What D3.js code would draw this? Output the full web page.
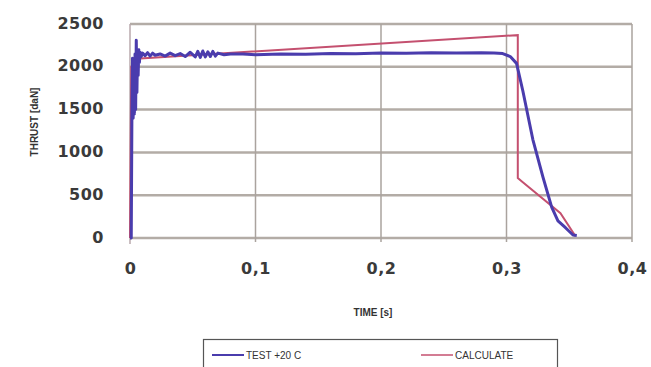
<!DOCTYPE html>
<html>
<head>
<meta charset="utf-8">
<script src="https://cdn.jsdelivr.net/npm/d3@7"></script>
<style>
  body { margin: 0; background: #fff; }
  svg { display: block; font-family: "DejaVu Sans", Verdana, sans-serif; }
</style>
</head>
<body>
<div id="chart"></div>
<script>
// tick values
const xTicks = [0, 0.1, 0.2, 0.3, 0.4];
const yTicks = [0, 500, 1000, 1500, 2000, 2500];

// measured test curve (time s, thrust)
const testTime = [
  0, 0.001, 0.0015, 0.002, 0.0025, 0.003, 0.0035, 0.004, 0.0045, 0.005,
  0.0055, 0.006, 0.0065, 0.007, 0.0075, 0.008, 0.009, 0.010, 0.012, 0.014,
  0.016, 0.018, 0.020, 0.024, 0.028, 0.032, 0.036, 0.040, 0.044, 0.048,
  0.052, 0.054, 0.056, 0.058, 0.060, 0.062, 0.064, 0.066, 0.068, 0.070,
  0.075, 0.080, 0.090, 0.100, 0.120, 0.140, 0.160, 0.180, 0.200, 0.220,
  0.240, 0.260, 0.280, 0.290, 0.297, 0.303, 0.308, 0.313, 0.321, 0.329,
  0.336, 0.341, 0.347, 0.353, 0.356
];
const testThrust = [
  0, 0, 1400, 2100, 1400, 2050, 1450, 2150, 1500, 2310,
  1700, 2160, 1900, 2200, 2050, 2170, 2120, 2160, 2130, 2165,
  2125, 2160, 2135, 2150, 2125, 2160, 2130, 2155, 2120, 2170,
  2115, 2180, 2110, 2185, 2115, 2175, 2120, 2180, 2125, 2160,
  2140, 2150, 2150, 2140, 2150, 2148, 2155, 2152, 2160, 2158,
  2165, 2162, 2165, 2160, 2155, 2120, 2040, 1720, 1150, 715,
  360, 200, 120, 35, 30
];

// calculated curve
const calcTime = [0, 0.001, 0.005, 0.309, 0.309, 0.313, 0.343, 0.355];
const calcThrust = [0, 2000, 2095, 2370, 700, 650, 290, 20];

const W = 651, H = 367;
const svg = d3.select('#chart').append('svg')
  .attr('width', W).attr('height', H);

const x = d3.scaleLinear().domain([0, 0.4]).range([130, 632]);
const y = d3.scaleLinear().domain([0, 2500]).range([238, 24]);

// horizontal grid
svg.append('g')
  .selectAll('line')
  .data(yTicks)
  .enter().append('line')
  .attr('x1', x(0)).attr('x2', x(0.4))
  .attr('y1', d => y(d)).attr('y2', d => y(d))
  .attr('stroke', '#b3aca6').attr('stroke-width', 2.5);

// vertical grid
svg.append('g')
  .selectAll('line')
  .data(xTicks.slice(1))
  .enter().append('line')
  .attr('x1', d => x(d)).attr('x2', d => x(d))
  .attr('y1', y(2500)).attr('y2', y(0) + 4)
  .attr('stroke', '#aaa39e').attr('stroke-width', 1.5);

// left axis line
svg.append('line')
  .attr('x1', x(0)).attr('x2', x(0))
  .attr('y1', y(2500)).attr('y2', y(0) + 6)
  .attr('stroke', '#b8a8ac').attr('stroke-width', 1.5);

const tickFont = '"DejaVu Sans", Verdana, sans-serif';

// y axis
const yAxis = svg.append('g')
  .attr('transform', 'translate(104,0)')
  .call(d3.axisLeft(y).tickValues(yTicks).tickSize(0).tickPadding(0).tickFormat(d3.format('d')));
yAxis.select('.domain').remove();
yAxis.selectAll('text')
  .attr('font-size', 16).attr('fill', '#3a3a3a').attr('font-weight', 'bold')
  .attr('letter-spacing', 0.5)
  .attr('dy', '0.25em')
  .style('font-family', tickFont);

// x axis
const xAxis = svg.append('g')
  .attr('transform', `translate(0,${y(0) + 25})`)
  .call(d3.axisBottom(x).tickValues(xTicks).tickSize(0).tickPadding(0)
    .tickFormat(d => d === 0 ? '0' : d3.format('.1f')(d).replace('.', ',')));
xAxis.select('.domain').remove();
xAxis.selectAll('text')
  .attr('font-size', 16).attr('fill', '#3a3a3a').attr('font-weight', 'bold')
  .attr('letter-spacing', 0.5)
  .style('font-family', tickFont);

// axis titles
svg.append('text')
  .attr('x', 373).attr('y', 316)
  .attr('text-anchor', 'middle')
  .attr('font-size', 10).attr('font-weight', 'bold').attr('fill', '#333')
  .style('font-family', '"Liberation Sans", Arial, sans-serif')
  .text('TIME [s]');

svg.append('text')
  .attr('transform', 'translate(38,122) rotate(-90)')
  .attr('text-anchor', 'middle')
  .attr('font-size', 10).attr('font-weight', 'bold').attr('fill', '#333')
  .style('font-family', '"Liberation Sans", Arial, sans-serif')
  .text('THRUST [daN]');

// lines
const testData = testTime.map((t, i) => ({t, v: testThrust[i]}));
const calcData = calcTime.map((t, i) => ({t, v: calcThrust[i]}));

const line = d3.line()
  .x(d => x(d.t))
  .y(d => y(d.v));

svg.append('path')
  .datum(calcData)
  .attr('fill', 'none')
  .attr('stroke', '#c4506f')
  .attr('stroke-width', 2)
  .attr('d', line);

svg.append('path')
  .datum(testData)
  .attr('fill', 'none')
  .attr('stroke', '#4a3cad')
  .attr('stroke-width', 3)
  .attr('stroke-linejoin', 'round')
  .attr('d', line);

// legend
const lg = svg.append('g');
lg.append('rect')
  .attr('x', 203.5).attr('y', 339.5)
  .attr('width', 354).attr('height', 34)
  .attr('fill', '#fff').attr('stroke', '#555').attr('stroke-width', 1.2);

const legendItems = [
  {name: 'TEST +20 C', color: '#4a3cad', w: 2, x0: 212},
  {name: 'CALCULATE', color: '#c4506f', w: 1.5, x0: 421}
];
legendItems.forEach(d => {
  lg.append('line')
    .attr('x1', d.x0).attr('x2', d.x0 + 32)
    .attr('y1', 355).attr('y2', 355)
    .attr('stroke', d.color).attr('stroke-width', d.w);
  lg.append('text')
    .attr('x', d.x0 + 34).attr('y', 359)
    .attr('font-size', 10).attr('fill', '#333')
    .style('font-family', '"Liberation Sans", Arial, sans-serif')
    .text(d.name);
});
</script>
</body>
</html>
